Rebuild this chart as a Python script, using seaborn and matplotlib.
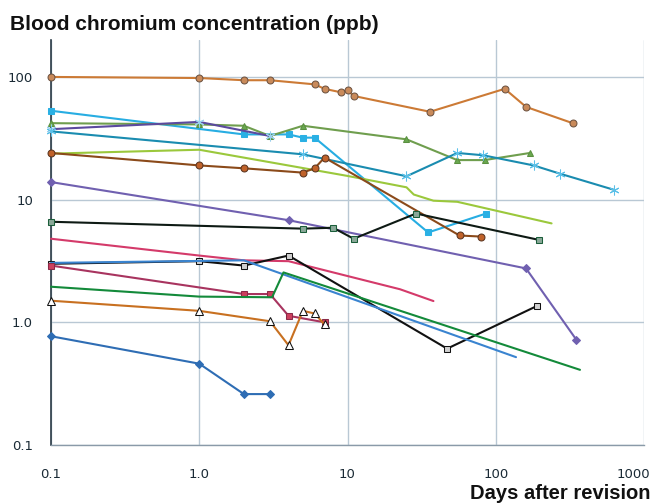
import matplotlib
matplotlib.use("Agg")
import matplotlib.pyplot as plt
import matplotlib.transforms as mtransforms
import seaborn as sns
from matplotlib.ticker import FixedLocator, NullLocator

# Datos (días, ppb)
a_x = [0.1, 1, 2, 3, 6, 7, 9, 10, 11, 36, 115, 160, 330]
a_y = [100, 98, 94, 94, 87, 80, 75, 78, 70, 52, 80, 57, 42]

b_x = [0.1, 2, 4, 5, 6, 35, 86]
b_y = [53, 34, 34, 32, 32, 5.4, 7.7]

c_x = [0.1, 1, 2, 3, 5, 25, 55, 84, 170]
c_y = [42, 41, 40, 33, 40, 31, 21, 21, 24]

d_x = [0.1, 1, 3]
d_y = [37.5, 43, 33]

e_x = [0.1, 5, 25, 55, 82, 180, 270, 630]
e_y = [36, 23.4, 15.5, 24, 23, 19, 16.3, 12]

f_x = [0.1, 1, 2, 10, 25, 28, 38, 55, 238]
f_y = [23.7, 25.5, 22, 15.6, 12.6, 11, 9.8, 9.6, 6.4]

g_x = [0.1, 1, 2, 5, 6, 7, 57, 79]
g_y = [24, 19, 18, 16.6, 18, 22, 5.1, 5.0]

h_x = [0.1, 4, 160, 350]
h_y = [13.9, 6.8, 2.75, 0.72]

i_x = [0.1, 5, 8, 11, 29, 195]
i_y = [6.6, 5.8, 5.9, 4.8, 7.7, 4.7]

j_x = [0.1, 1, 2, 4, 22.6, 38]
j_y = [4.8, 3.5, 3.2, 3.15, 1.86, 1.49]

k_x = [0.1, 1, 2, 4, 47, 190]
k_y = [3.0, 3.15, 2.9, 3.5, 0.61, 1.36]

l_x = [0.1, 2, 137]
l_y = [3.05, 3.2, 0.52]

m_x = [0.1, 2, 3, 4, 7]
m_y = [2.9, 1.7, 1.7, 1.13, 1.0]

n_x = [0.1, 1, 3.1, 3.7, 370]
n_y = [1.95, 1.62, 1.6, 2.55, 0.41]

o_x = [0.1, 1, 3, 4, 5, 6, 7]
o_y = [1.5, 1.24, 1.02, 0.65, 1.24, 1.18, 0.96]

p_x = [0.1, 1, 2, 3]
p_y = [0.77, 0.46, 0.26, 0.26]

x_ticks = [0.1, 1, 10, 100, 1000]
x_labels = ["0.1", "1.0", "10", "100", "1000"]
y_ticks = [0.1, 1, 10, 100]
y_labels = ["0.1", "1.0", "10", "100"]

titulo = "Blood chromium concentration (ppb)"
eixo_x = "Days after revision"

# estilo de cada serie
estilos = [
    (a_x, a_y, dict(color="#cc7a35", marker="o", ms=5, mfc="#c98a5a", mec="#6e5442")),
    (b_x, b_y, dict(color="#27ade2", marker="s", ms=4.5, mfc="#2ab0e4", mec="#2ab0e4")),
    (c_x, c_y, dict(color="#6f9e4e", marker="^", ms=4.5, mfc="#6aa84f", mec="#5a9040")),
    (d_x, d_y, dict(color="#5b4a9e", marker=(6, 2, 0), ms=7, mfc="#9ad0ee", mec="#9ad0ee")),
    (e_x, e_y, dict(color="#1a8cb0", marker=(6, 2, 0), ms=7, mfc="#5bc0e8", mec="#5bc0e8")),
    (f_x, f_y, dict(color="#9bc83c")),
    (g_x, g_y, dict(color="#8b4a1a", marker="o", ms=5, mfc="#c0622a", mec="#5a3520")),
    (h_x, h_y, dict(color="#7060b0", marker="D", ms=4.5, mfc="#7060b0", mec="#7060b0")),
    (i_x, i_y, dict(color="#0e1a14", marker="s", ms=4, mfc="#8aa898", mec="#1b5e3a")),
    (j_x, j_y, dict(color="#d43a6a")),
    (k_x, k_y, dict(color="#111111", marker="s", ms=4, mfc="#d0d0d0", mec="#111111")),
    (l_x, l_y, dict(color="#3a84d0")),
    (m_x, m_y, dict(color="#a8345f", marker="s", ms=5, mfc="#cc3f5e", mec="#8a2a48")),
    (n_x, n_y, dict(color="#138a3a")),
    (o_x, o_y, dict(color="#c87020", marker="^", ms=5.5, mfc="white", mec="#111111")),
    (p_x, p_y, dict(color="#2e6db4", marker="D", ms=4.5, mfc="#2e6db4", mec="#2e6db4")),
]

sns.set_style("white")
plt.rcParams["font.family"] = ["DejaVu Sans"]

fig = plt.figure(figsize=(6.55, 5.03), dpi=100)
ax = fig.add_axes([51 / 655, 1 - 445 / 503, 593 / 655, 405 / 503])

for xs, ys, kw in estilos:
    sns.lineplot(x=xs, y=ys, ax=ax, lw=1.5, sort=False, clip_on=False, zorder=3, **kw)

ax.set_xscale("log")
ax.set_yscale("log")
ax.set_xlim(0.1, 1000)
ax.set_ylim(0.1, 200)

ax.xaxis.set_major_locator(FixedLocator(x_ticks))
ax.xaxis.set_minor_locator(NullLocator())
ax.set_xticklabels(x_labels)
ax.yaxis.set_major_locator(FixedLocator(y_ticks))
ax.yaxis.set_minor_locator(NullLocator())
ax.set_yticklabels(y_labels)

ax.grid(True, which="major", color="#b9c8d4", lw=1)
ax.set_axisbelow(True)
for lado in ["top", "right"]:
    ax.spines[lado].set_visible(False)
ax.spines["left"].set_color("#2a3a45")
ax.spines["left"].set_linewidth(1.2)
ax.spines["bottom"].set_color("#8a9aa8")
ax.spines["bottom"].set_linewidth(1)
ax.tick_params(axis="both", direction="out", length=4.5, width=1,
               color="#8a9aa8", labelsize=9.5, labelcolor="#1a2a35")
ax.tick_params(axis="x", pad=12)
ax.tick_params(axis="y", pad=8.5)

# el último rótulo (1000) no cabe centrado
ultimo = ax.get_xticklabels()[-1]
ultimo.set_horizontalalignment("right")
ultimo.set_transform(ultimo.get_transform() +
                     mtransforms.ScaledTranslation(6 / 100, 0, fig.dpi_scale_trans))

fig.text(10 / 655, 1 - 30 / 503, titulo, fontsize=15, fontweight="bold",
         family=["Liberation Sans", "DejaVu Sans"], color="#111111", va="baseline")
fig.text(651 / 655, 1 - 499 / 503, eixo_x, fontsize=14.5, fontweight="bold",
         family=["Liberation Sans", "DejaVu Sans"], color="#111111",
         ha="right", va="baseline")

fig.savefig("out.png", dpi=100)
